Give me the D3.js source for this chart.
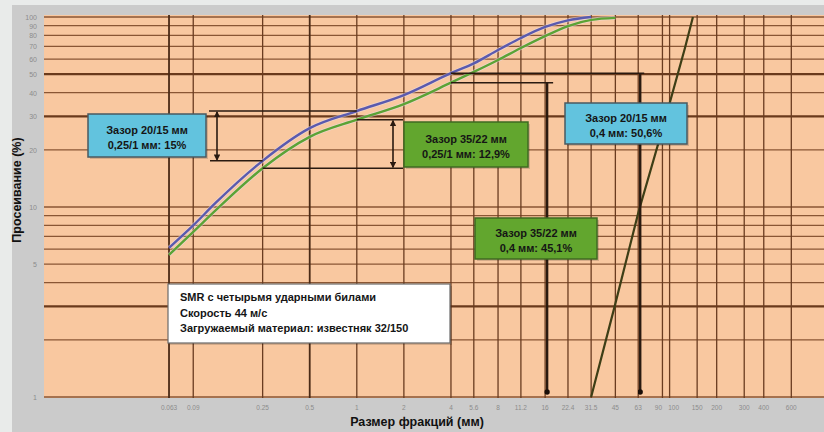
<!DOCTYPE html>
<html><head><meta charset="utf-8">
<script src="https://cdn.jsdelivr.net/npm/d3@7"></script>
<style>body{margin:0;background:#e9ebea;} svg{display:block;font-family:"Liberation Sans",Arial,sans-serif;}</style>
</head><body><svg id="c" width="824" height="432"></svg>
<script>
// ---- data ----
const sizes2015 = [0.063,0.09,0.125,0.25,0.5,1,2,4,5.6,8,11.2,16,22.4,31.5];
const pass2015  = [6.1,8.0,10.5,17.5,26,32,38.8,50.6,57,67,77.5,88.6,96,100];
const sizes3522 = [0.063,0.09,0.125,0.25,0.5,1,2,4,5.6,8,11.2,16,22.4,31.5,45];
const pass3522  = [5.6,7.4,9.6,16,23.4,28.8,34.8,45.1,51.4,59.4,68.7,79.3,89.6,96.6,99];
const feedSizes = [31.5,45,63,90,125,141];
const feedPass  = [1,3.1,9.3,25.7,68,100];
const xTicks = [0.063,0.09,0.25,0.5,1,2,4,5.6,8,11.2,16,22.4,31.5,45,63,90,100,150,200,300,400,600];
const yTicks = [1,5,10,20,30,40,50,60,70,80,90,100];
const yGrid  = [1,2,3,4,5,6,7,8,9,10,20,30,40,50,60,70,80,90,100];
const yMajor = [3,30,50];
const xMajor = [0.063,0.5];
const boxes = [
  {lines:["Зазор 20/15 мм","0,25/1 мм: 15%"], x:88, y:114, w:118, h:43, fill:"#62c3de", stroke:"#4a5a60"},
  {lines:["Зазор 35/22 мм","0,25/1 мм: 12,9%"], x:404, y:122, w:124, h:45, fill:"#62a62e", stroke:"#3f6a22"},
  {lines:["Зазор 20/15 мм","0,4 мм: 50,6%"], x:565, y:103, w:122, h:41, fill:"#62c3de", stroke:"#4a5a60"},
  {lines:["Зазор 35/22 мм","0,4 мм: 45,1%"], x:475, y:218, w:122, h:41, fill:"#62a62e", stroke:"#3f6a22"}
];
const infoLines = ["SMR с четырьмя ударными билами","Скорость 44 м/с","Загружаемый материал: известняк 32/150"];

// ---- scales ----
const svg = d3.select("#c");
const L=44, R=824, T=15, B=398;
const x = d3.scaleLog().domain([0.01,1000]).range([44,826]);
const y = d3.scaleLog().domain([1,100]).range([397,17]);

svg.append("rect").attr("x",12).attr("y",5).attr("width",812).attr("height",427).attr("fill","#cbcbcb");
svg.append("rect").attr("x",L).attr("y",T).attr("width",R-L).attr("height",B-T).attr("fill","#f9c8a0");

const grid = svg.append("g");
grid.selectAll("line.h").data(yGrid).join("line")
  .attr("x1",L).attr("x2",R).attr("y1",d=>y(d)).attr("y2",d=>y(d))
  .attr("stroke",d=>yMajor.includes(d)?"#6a3a1c":"#8a5634").attr("stroke-width",d=>yMajor.includes(d)?2.2:1.3);
grid.selectAll("line.v").data(xTicks).join("line")
  .attr("y1",T).attr("y2",B).attr("x1",d=>x(d)).attr("x2",d=>x(d))
  .attr("stroke",d=>xMajor.includes(d)?"#4a2a16":"#6a3c20").attr("stroke-width",d=>xMajor.includes(d)?1.8:1.3);

// tick labels
const xOff = {90:-4, 100:4};
svg.append("g").selectAll("text").data(xTicks).join("text")
  .attr("x",d=>x(d)+(xOff[d]||0)).attr("y",410).attr("text-anchor","middle")
  .attr("font-size",6.5).attr("fill","#8c8c8c").text(d=>String(d));
svg.append("g").selectAll("text").data(yTicks).join("text")
  .attr("x",37).attr("y",d=>y(d)+3).attr("text-anchor","end")
  .attr("font-size",7).attr("fill","#8c8c8c").text(d=>String(d));

// axis titles
svg.append("text").attr("x",417).attr("y",426).attr("text-anchor","middle")
  .attr("font-size",12.5).attr("font-weight","bold").attr("fill","#111").text("Размер фракций (мм)");
svg.append("text").attr("transform","translate(21,190) rotate(-90)").attr("text-anchor","middle")
  .attr("font-size",12.5).attr("font-weight","bold").attr("fill","#111").text("Просеивание (%)");

// curves
const line = d3.line().x(d=>x(d[0])).y(d=>y(d[1])).curve(d3.curveMonotoneX);
const d2015 = sizes2015.map((s,i)=>[s,pass2015[i]]);
const d3522 = sizes3522.map((s,i)=>[s,pass3522[i]]);
const dFeed = feedSizes.map((s,i)=>[s,feedPass[i]]);
[[d3522,"#5ba335"],[d2015,"#5a5aae"]].forEach(([d,c])=>{
  svg.append("path").attr("d",line(d)).attr("fill","none").attr("stroke","#e8e0f0").attr("stroke-width",4).attr("opacity",0.5);
  svg.append("path").attr("d",line(d)).attr("fill","none").attr("stroke",c).attr("stroke-width",2.4);
});
svg.append("path").attr("d",d3.line().x(d=>x(d[0])).y(d=>y(d[1]))(dFeed))
  .attr("fill","none").attr("stroke","#3e3e16").attr("stroke-width",2.2);

// annotation lines
const defs = svg.append("defs");
defs.append("marker").attr("id","ar").attr("viewBox","0 0 6 6").attr("refX",5).attr("refY",3)
  .attr("markerWidth",4).attr("markerHeight",4).attr("orient","auto-start-reverse")
  .append("path").attr("d","M0,0L6,3L0,6z").attr("fill","#2a1a10");
defs.append("marker").attr("id","dot").attr("viewBox","0 0 6 6").attr("refX",3).attr("refY",3)
  .attr("markerWidth",2.2).attr("markerHeight",2.2)
  .append("circle").attr("cx",3).attr("cy",3).attr("r",3).attr("fill","#1a0e08");
const ann = svg.append("g").attr("stroke","#2a1a10").attr("stroke-width",1.6).attr("fill","none");
const pick=(s,p,v)=>p[s.indexOf(v)];
const b1=pick(sizes2015,pass2015,1), b025=pick(sizes2015,pass2015,0.25);
const g1=pick(sizes3522,pass3522,1), g025=pick(sizes3522,pass3522,0.25);
const b4=pick(sizes2015,pass2015,4), g4=pick(sizes3522,pass3522,4);
ann.append("line").attr("x1",209).attr("x2",x(1)).attr("y1",y(b1)).attr("y2",y(b1));
ann.append("line").attr("x1",210).attr("x2",x(0.25)).attr("y1",y(b025)).attr("y2",y(b025));
ann.append("line").attr("x1",217).attr("x2",217).attr("y1",y(b1)+1).attr("y2",y(b025)-1)
  .attr("marker-start","url(#ar)").attr("marker-end","url(#ar)");
ann.append("line").attr("x1",x(1)).attr("x2",403).attr("y1",y(g1)).attr("y2",y(g1));
ann.append("line").attr("x1",x(0.25)).attr("x2",403).attr("y1",y(g025)).attr("y2",y(g025));
ann.append("line").attr("x1",393).attr("x2",393).attr("y1",y(g1)+1).attr("y2",y(g025)-1)
  .attr("marker-start","url(#ar)").attr("marker-end","url(#ar)");
ann.append("line").attr("x1",x(4)).attr("x2",x(63)+6).attr("y1",y(b4)).attr("y2",y(b4));
ann.append("line").attr("x1",x(63)+2).attr("x2",x(63)+2).attr("y1",y(b4)).attr("y2",y(1)-5).attr("stroke-width",2.4).attr("marker-end","url(#dot)");
ann.append("line").attr("x1",x(4)).attr("x2",x(16)+8).attr("y1",y(g4)).attr("y2",y(g4));
ann.append("line").attr("x1",x(16)+2).attr("x2",x(16)+2).attr("y1",y(g4)).attr("y2",y(1)-5).attr("stroke-width",2.4).attr("marker-end","url(#dot)");

// boxes
boxes.forEach(b=>{
  svg.append("rect").attr("x",b.x+2).attr("y",b.y+2).attr("width",b.w).attr("height",b.h).attr("fill","rgba(0,0,0,0.15)");
  svg.append("rect").attr("x",b.x).attr("y",b.y).attr("width",b.w).attr("height",b.h)
    .attr("fill",b.fill).attr("stroke",b.stroke).attr("stroke-width",1.5);
  b.lines.forEach((t,i)=>svg.append("text").attr("x",b.x+b.w/2).attr("y",b.y+b.h/2-2+i*15)
    .attr("text-anchor","middle").attr("font-size",11).attr("font-weight","bold").attr("fill","#151515").text(t));
});
svg.append("rect").attr("x",170).attr("y",286).attr("width",282).attr("height",59).attr("fill","rgba(0,0,0,0.15)");
svg.append("rect").attr("x",168).attr("y",284).attr("width",282).attr("height",59)
  .attr("fill","#ffffff").attr("stroke","#6a6a6a").attr("stroke-width",1.2);
infoLines.forEach((t,i)=>svg.append("text").attr("x",180).attr("y",301+i*15.5)
  .attr("font-size",11).attr("font-weight","bold").attr("fill","#151515").text(t));
</script></body></html>
